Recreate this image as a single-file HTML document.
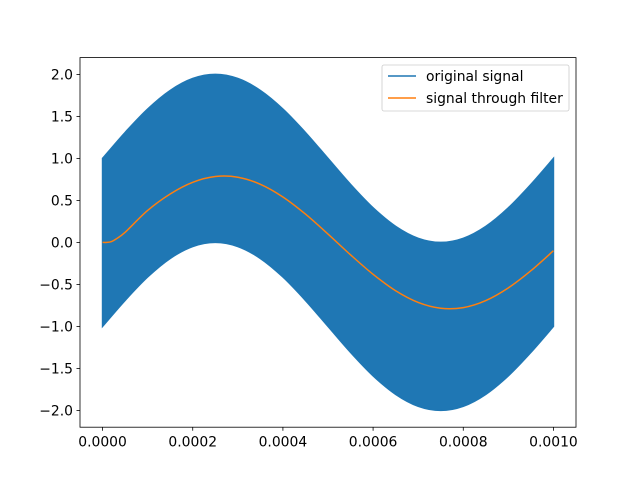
<!DOCTYPE html>
<html><head><meta charset="utf-8"><style>
body{margin:0;background:#fff}
svg text{font-family:"DejaVu Sans","Liberation Sans",sans-serif;font-size:13.9px;fill:#000}
</style></head><body>
<svg id="chart" width="640" height="480" xmlns="http://www.w3.org/2000/svg">
<rect width="640" height="480" fill="#fff"/>
<g id="plot"></g>
<rect x="80" y="57.6" width="496" height="369.6" fill="none" stroke="#000" stroke-width="0.8"/>
<g id="xticks"></g><g id="yticks"></g>
<g>
<rect x="382" y="65" width="187" height="46" rx="2" fill="#fff" fill-opacity="0.8" stroke="#ccc" stroke-width="0.8"/>
<line x1="388" y1="76" x2="416" y2="76" stroke="#1f77b4" stroke-width="1.5"/>
<text x="426" y="81">original signal</text>
<line x1="388" y1="98" x2="416" y2="98" stroke="#ff7f0e" stroke-width="1.5"/>
<text x="426" y="103">signal through filter</text>
</g>
</svg>
<script>
const bandT=[0,0.00005,0.0001,0.00015,0.0002,0.00025,0.0003,0.00035,0.0004,0.00045,0.0005,0.00055,0.0006,0.00065,0.0007,0.00075,0.0008,0.00085,0.0009,0.00095,0.001];
const bandUpper=[1,1.309,1.588,1.809,1.951,2,1.951,1.809,1.588,1.309,1,0.691,0.412,0.191,0.049,0,0.049,0.191,0.412,0.691,1];
const bandLower=[-1,-0.691,-0.412,-0.191,-0.049,0,-0.049,-0.191,-0.412,-0.691,-1,-1.309,-1.588,-1.809,-1.951,-2,-1.951,-1.809,-1.588,-1.309,-1];
const filtT=[0,0.00001,0.00002,0.00003,0.00005,0.0001,0.00015,0.0002,0.00025,0.0003,0.00035,0.0004,0.00045,0.0005,0.00055,0.0006,0.00065,0.0007,0.00075,0.0008,0.00085,0.0009,0.00095,0.001];
const filtV=[0,0,0.01,0.04,0.12,0.38,0.576,0.715,0.784,0.776,0.692,0.541,0.337,0.099,-0.148,-0.38,-0.576,-0.715,-0.784,-0.776,-0.692,-0.541,-0.337,-0.099];
const xTicks=[0,0.0002,0.0004,0.0006,0.0008,0.001];
const xTickLabels=["0.0000","0.0002","0.0004","0.0006","0.0008","0.0010"];
const yTicks=[-2,-1.5,-1,-0.5,0,0.5,1,1.5,2];
const yTickLabels=["−2.0","−1.5","−1.0","−0.5","0.0","0.5","1.0","1.5","2.0"];
const L=80,R=576,T=57.6,B=427.2,x0=-0.00005,x1=0.00105,y0=-2.2,y1=2.2;
const X=v=>L+(v-x0)/(x1-x0)*(R-L);
const Y=v=>B-(v-y0)/(y1-y0)*(B-T);
const NS="http://www.w3.org/2000/svg";
function mk(tag,attrs,parent){const e=document.createElementNS(NS,tag);for(const k in attrs)e.setAttribute(k,attrs[k]);parent.appendChild(e);return e;}
function smooth(pts){let d=`M${pts[0][0]},${pts[0][1]}`;for(let i=0;i<pts.length-1;i++){const p0=pts[Math.max(i-1,0)],p1=pts[i],p2=pts[i+1],p3=pts[Math.min(i+2,pts.length-1)];const c1=[p1[0]+(p2[0]-p0[0])/6,p1[1]+(p2[1]-p0[1])/6],c2=[p2[0]-(p3[0]-p1[0])/6,p2[1]-(p3[1]-p1[1])/6];d+=` C${c1[0]},${c1[1]} ${c2[0]},${c2[1]} ${p2[0]},${p2[1]}`;}return d;}
const plot=document.getElementById('plot');
const up=bandT.map((t,i)=>[X(t),Y(bandUpper[i])]);
const lo=bandT.map((t,i)=>[X(t),Y(bandLower[i])]).reverse();
let dBand=smooth(up)+` L${lo[0][0]},${lo[0][1]}`+smooth(lo).replace(/^M[^C]*/,' ')+'Z';
const band=mk('path',{d:dBand,fill:'#1f77b4',stroke:'#1f77b4','stroke-width':1.5},plot);


const fl=mk('path',{d:smooth(filtT.map((t,i)=>[X(t),Y(filtV[i])])),fill:'none',stroke:'#ff7f0e','stroke-width':1.5},plot);


const xg=document.getElementById('xticks');
xTicks.forEach((v,i)=>{const x=X(v);
 const l=mk('line',{x1:x,x2:x,y1:B,y2:B+3.5,stroke:'#000','stroke-width':0.8},xg);
 
 
 const t=mk('text',{x:x,y:B+19.5,'text-anchor':'middle'},xg);t.textContent=xTickLabels[i];
 
 });
const yg=document.getElementById('yticks');
yTicks.forEach((v,i)=>{const y=Y(v);
 const l=mk('line',{x1:L-3.5,x2:L,y1:y,y2:y,stroke:'#000','stroke-width':0.8},yg);
 
 
 const t=mk('text',{x:L-7,y:y+5,'text-anchor':'end'},yg);t.textContent=yTickLabels[i];
 
 });
</script>
</body></html>
